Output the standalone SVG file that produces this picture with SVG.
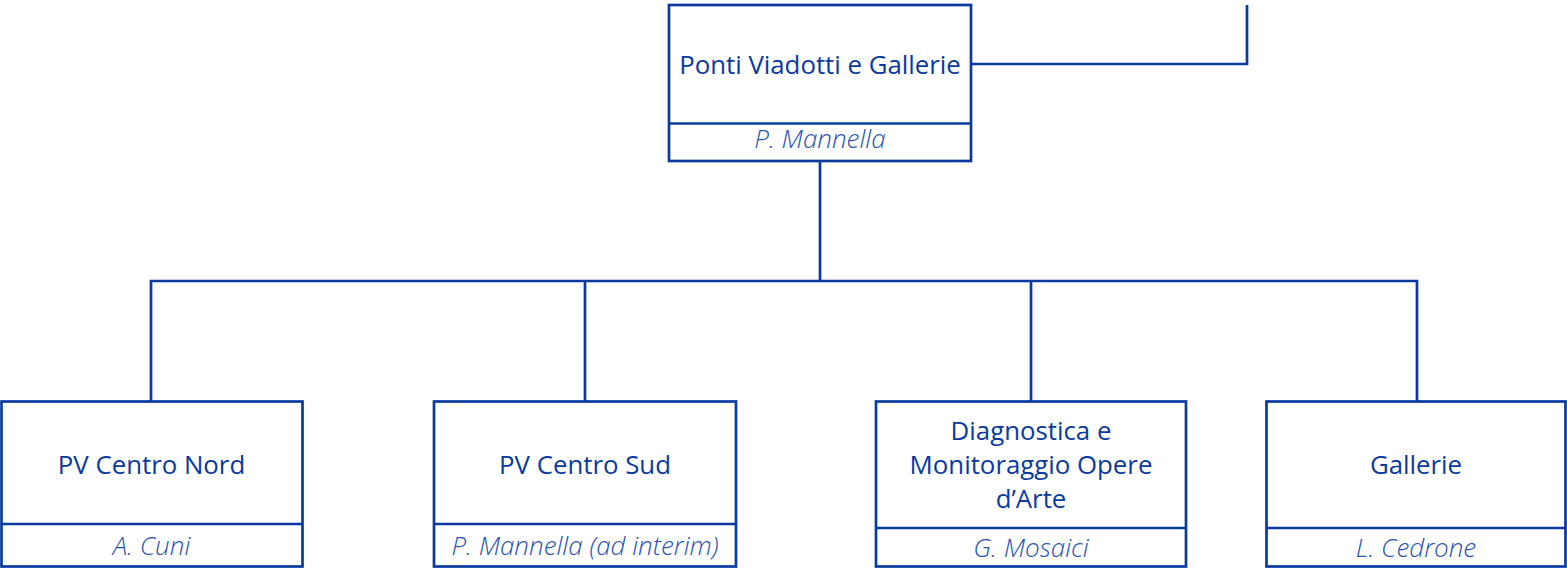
<svg xmlns="http://www.w3.org/2000/svg" width="1567" height="568" viewBox="0 0 1567 568">
<style>
.box{fill:#fff;stroke:#0a3aa0;stroke-width:2.7}
.conn{fill:none;stroke:#0a3aa0;stroke-width:2.7}
.title{font-family:"Open Sans","Liberation Sans",sans-serif;font-size:25.8px;fill:#0a3aa0;text-anchor:middle}
.name{font-family:"Open Sans","Liberation Sans",sans-serif;font-size:26px;font-style:italic;font-weight:300;fill:#2a52b0;text-anchor:middle}
</style>
<rect width="1567" height="568" fill="#fff"/>
<g id="connectors">
<polyline class="conn" points="971,64 1247,64 1247,5"/>
<line class="conn" x1="820" y1="161" x2="820" y2="281"/>
<polyline class="conn" points="151,401 151,281 1417,281 1417,401"/>
<line class="conn" x1="585" y1="281" x2="585" y2="401"/>
<line class="conn" x1="1031" y1="281" x2="1031" y2="401"/>
</g>
<g id="node-top">
<rect class="box" x="669" y="5" width="302" height="156"/>
<line class="conn" x1="669" y1="123.5" x2="971" y2="123.5"/>
<text class="title" x="820" y="74">Ponti Viadotti e Gallerie</text>
<text class="name" x="820" y="148">P. Mannella</text>
</g>
<g id="node-pv-nord">
<rect class="box" x="1.5" y="401.5" width="301" height="165"/>
<line class="conn" x1="1.5" y1="524" x2="302.5" y2="524"/>
<text class="title" x="151.5" y="474">PV Centro Nord</text>
<text class="name" x="151.5" y="555">A. Cuni</text>
</g>
<g id="node-pv-sud">
<rect class="box" x="434" y="401.5" width="302" height="165"/>
<line class="conn" x1="434" y1="524" x2="736" y2="524"/>
<text class="title" x="585" y="474">PV Centro Sud</text>
<text class="name" x="585" y="555">P. Mannella (ad interim)</text>
</g>
<g id="node-diagnostica">
<rect class="box" x="876" y="401.5" width="310" height="165"/>
<line class="conn" x1="876" y1="528" x2="1186" y2="528"/>
<text class="title" x="1031" y="440">Diagnostica e</text>
<text class="title" x="1031" y="474">Monitoraggio Opere</text>
<text class="title" x="1031" y="508">d’Arte</text>
<text class="name" x="1031" y="557">G. Mosaici</text>
</g>
<g id="node-gallerie">
<rect class="box" x="1266.5" y="401.5" width="299" height="165"/>
<line class="conn" x1="1266.5" y1="528" x2="1565.5" y2="528"/>
<text class="title" x="1416" y="474">Gallerie</text>
<text class="name" x="1416" y="557">L. Cedrone</text>
</g>
</svg>
